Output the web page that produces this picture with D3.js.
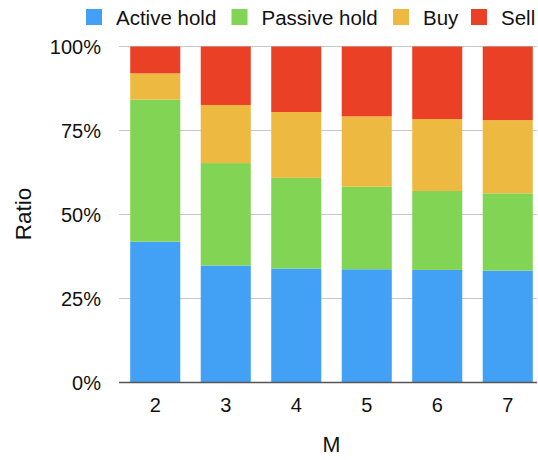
<!DOCTYPE html>
<html>
<head>
<meta charset="utf-8">
<script src="https://cdn.jsdelivr.net/npm/d3@7"></script>
<style>
  html, body { margin: 0; padding: 0; background: #fff; }
  svg { display: block; font-family: "Liberation Sans", Arial, Helvetica, sans-serif; }
</style>
</head>
<body>
<svg id="chart" width="538" height="460"></svg>
<script>
// Share of each action (percent) for M = 2..7
const categories = ["2", "3", "4", "5", "6", "7"];
const seriesNames = ["Active hold", "Passive hold", "Buy", "Sell"];
const activeHold  = [41.9, 34.8, 33.9, 33.7, 33.5, 33.3];
const passiveHold = [42.3, 30.5, 27.0, 24.6, 23.5, 23.0];
const buy         = [7.8, 17.3, 19.6, 20.9, 21.4, 21.8];
const sell        = [8.0, 17.4, 19.5, 20.8, 21.6, 21.9];
const yTicks = [0, 25, 50, 75, 100];
const colors = ["#42a0f5", "#82d454", "#eeb940", "#ea4026"];

const rows = categories.map((c, i) => ({
  M: c,
  "Active hold": activeHold[i],
  "Passive hold": passiveHold[i],
  "Buy": buy[i],
  "Sell": sell[i]
}));

const svg = d3.select("#chart");
const plotLeft = 120, plotRight = 537, plotTop = 46.5, plotBottom = 382.5;

const x = d3.scaleBand().domain(categories).range([plotLeft, 543])
  .paddingInner(0.29).paddingOuter(0.145);
const y = d3.scaleLinear().domain([0, 100]).range([plotBottom, plotTop]);
const color = d3.scaleOrdinal().domain(seriesNames).range(colors);

const stacked = d3.stack().keys(seriesNames)(rows);

// gridlines
svg.append("g")
  .selectAll("line")
  .data(yTicks.filter(d => d > 0))
  .join("line")
  .attr("x1", plotLeft - 1).attr("x2", plotRight)
  .attr("y1", d => y(d)).attr("y2", d => y(d))
  .attr("stroke", "#c8c8c8").attr("stroke-width", 1);

// stacked bars
svg.append("g")
  .selectAll("g")
  .data(stacked)
  .join("g")
  .attr("fill", d => color(d.key))
  .selectAll("rect")
  .data(d => d)
  .join("rect")
  .attr("x", d => x(d.data.M))
  .attr("width", x.bandwidth())
  .attr("y", d => y(d[1]))
  .attr("height", d => y(d[0]) - y(d[1]));

// baseline
svg.append("line")
  .attr("x1", plotLeft - 1).attr("x2", plotRight)
  .attr("y1", y(0)).attr("y2", y(0))
  .attr("stroke", "#555").attr("stroke-width", 1.5);

// y tick labels
svg.append("g")
  .selectAll("text")
  .data(yTicks)
  .join("text")
  .attr("x", 101)
  .attr("y", d => y(d))
  .attr("dy", "0.35em")
  .attr("text-anchor", "end")
  .attr("font-size", 20)
  .attr("fill", "#111")
  .text(d => d + "%");

// x tick labels
svg.append("g")
  .selectAll("text")
  .data(categories)
  .join("text")
  .attr("x", d => x(d) + x.bandwidth() / 2)
  .attr("y", 412)
  .attr("text-anchor", "middle")
  .attr("font-size", 20)
  .attr("fill", "#111")
  .text(d => d);

// axis titles
svg.append("text")
  .attr("x", 331.5).attr("y", 452)
  .attr("text-anchor", "middle")
  .attr("font-size", 21.5)
  .attr("fill", "#111")
  .text("M");

svg.append("text")
  .attr("transform", "translate(30.5,214) rotate(-90)")
  .attr("text-anchor", "middle")
  .attr("font-size", 22.5)
  .attr("fill", "#111")
  .text("Ratio");

// legend
const legendX = [86, 231.5, 393, 471];
const legend = svg.append("g")
  .selectAll("g")
  .data(seriesNames)
  .join("g")
  .attr("transform", (d, i) => `translate(${legendX[i]},9)`);
legend.append("rect")
  .attr("width", 16).attr("height", 16)
  .attr("fill", d => color(d));
legend.append("text")
  .attr("x", 30).attr("y", 15.5)
  .attr("font-size", 20.5)
  .attr("fill", "#111")
  .text(d => d);
</script>
</body>
</html>
